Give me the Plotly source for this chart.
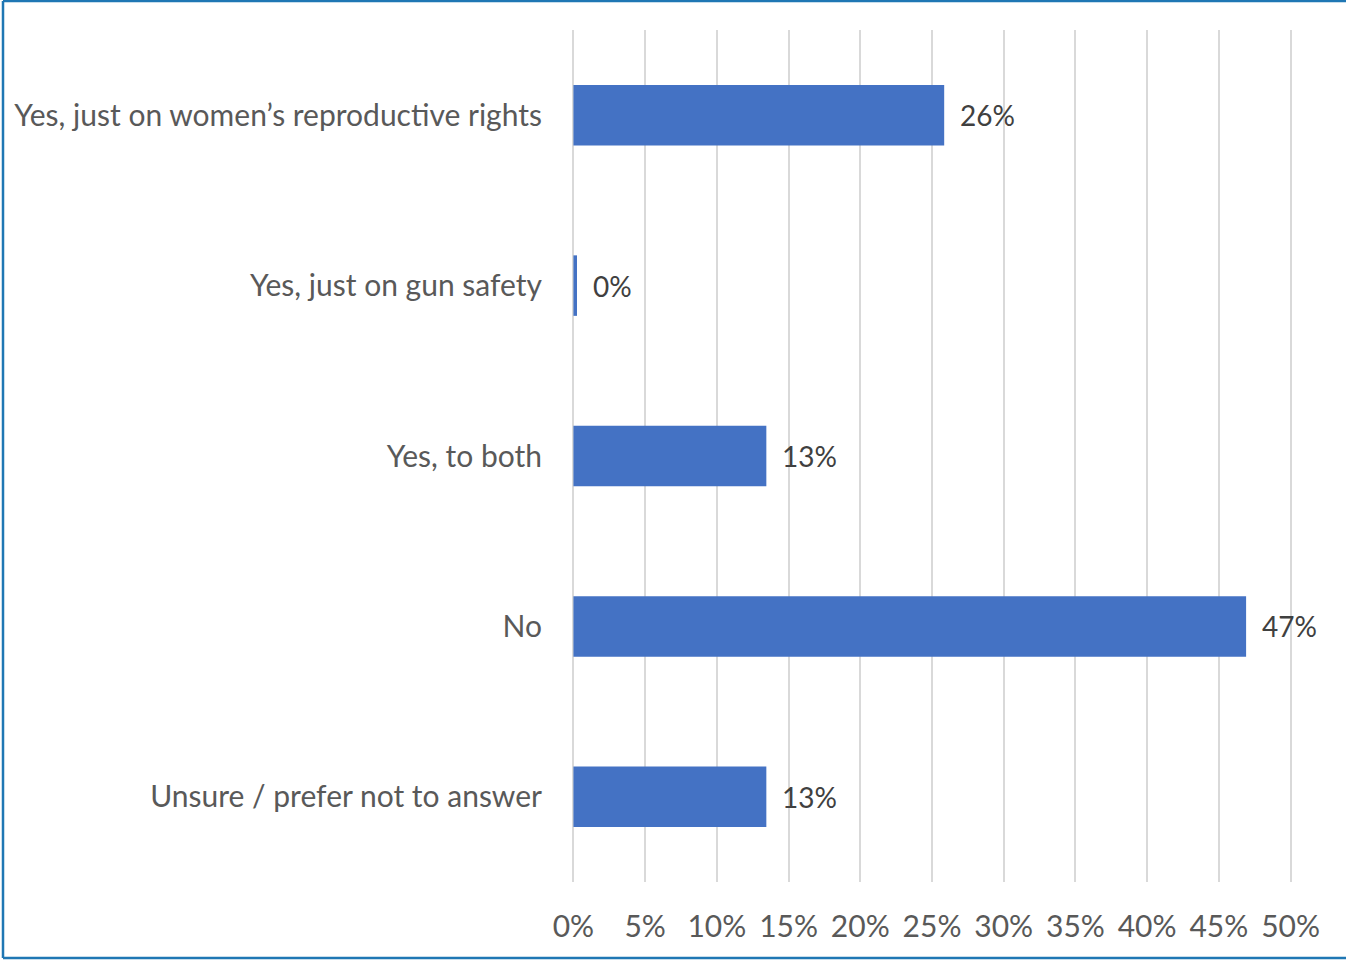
import plotly.graph_objects as go

categories = [
    "Yes, just on women\u2019s reproductive rights",
    "Yes, just on gun safety",
    "Yes, to both",
    "No",
    "Unsure / prefer not to answer",
]
values = [25.85, 0.25, 13.45, 46.9, 13.45]
labels = ["26%", "0%", "13%", "47%", "13%"]
tick_vals = [0, 5, 10, 15, 20, 25, 30, 35, 40, 45, 50]
tick_text = ["0%", "5%", "10%", "15%", "20%", "25%", "30%", "35%", "40%", "45%", "50%"]

W, H = 1346, 960
ML, MR, MT, MB = 572, 54, 30, 78
FONT = "Lato"

fig = go.Figure(go.Bar(
    y=categories, x=values, orientation="h",
    marker=dict(color="#4472C4", line=dict(width=0)),
    width=0.355,
))

for c, v, t in zip(categories, values, labels):
    fig.add_annotation(x=v, y=c, text=t, showarrow=False, xanchor="left",
                       xshift=14, font=dict(family=FONT, size=28, color="#404040"))

pw = W - ML - MR
ph = H - MT - MB
def px(x):
    return (x - ML) / pw
def py(y):
    return (H - MB - y) / ph

border = dict(color="#1F77B4", width=2.5)
fig.add_shape(type="line", xref="paper", yref="paper", x0=px(3), x1=px(3), y0=py(1), y1=py(958), line=border)
fig.add_shape(type="line", xref="paper", yref="paper", x0=px(3), x1=px(1346), y0=py(1), y1=py(1), line=border)
fig.add_shape(type="line", xref="paper", yref="paper", x0=px(3), x1=px(1346), y0=py(958), y1=py(958), line=border)

fig.update_layout(
    width=W, height=H,
    margin=dict(l=ML, r=MR, t=MT, b=MB, pad=0),
    paper_bgcolor="white", plot_bgcolor="white",
    showlegend=False,
    font=dict(family=FONT, size=30, color="#595959"),
    xaxis=dict(range=[-0.1, 50.1], tickvals=tick_vals, ticktext=tick_text,
               showgrid=True, gridcolor="#D9D9D9", gridwidth=2,
               zeroline=False, showline=False, ticks="",
               ticklabelstandoff=24, fixedrange=True, layer="below traces"),
    yaxis=dict(autorange="reversed", categoryorder="array", categoryarray=categories,
               showgrid=False, zeroline=False, showline=False, ticks="",
               ticklabelstandoff=29, fixedrange=True),
)

fig.write_html("out.html")
